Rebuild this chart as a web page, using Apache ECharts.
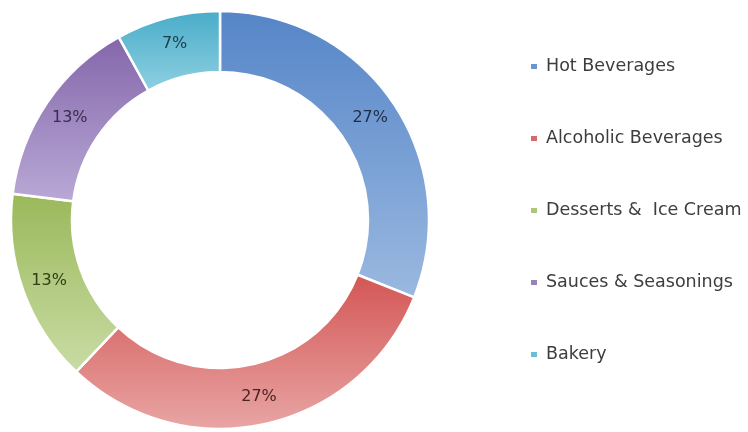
<!DOCTYPE html>
<html>
<head>
<meta charset="utf-8">
<script src="https://cdn.jsdelivr.net/npm/echarts@6/dist/echarts.min.js"></script>
<style>html,body{margin:0;padding:0;background:#fff}#c{width:748px;height:432px}</style>
</head>
<body>
<div id="c"></div>
<script>
var categories = ['Hot Beverages', 'Alcoholic Beverages', 'Desserts &  Ice Cream', 'Sauces & Seasonings', 'Bakery'];
var values = [27, 27, 13, 13, 7];
var topColors = ['#5585c8', '#d35654', '#9ab85a', '#8466aa', '#48acc8'];
var bottomColors = ['#9bb9e0', '#e8a6a5', '#c9dca5', '#b9a9d6', '#8fd0e2'];
var legendColors = ['#6b93cc', '#d56c6b', '#aec67a', '#9684b8', '#6bbdd3'];
var labelColors = ['#1f2d44', '#4a2424', '#2f3d1c', '#3a2c4c', '#1d3d48'];

var data = categories.map(function (name, i) {
  return {
    name: name,
    value: values[i],
    itemStyle: {
      color: new echarts.graphic.LinearGradient(0, 0, 0, 1, [
        { offset: 0, color: topColors[i] },
        { offset: 1, color: bottomColors[i] }
      ])
    },
    label: { color: labelColors[i] }
  };
});

var chart = echarts.init(document.getElementById('c'), null, { renderer: 'canvas' });
chart.setOption({
  animation: false,
  backgroundColor: '#ffffff',
  legend: {
    orient: 'vertical',
    left: 524,
    top: 51,
    itemGap: 51,
    itemWidth: 8,
    itemHeight: 7,
    icon: 'rect',
    data: categories.map(function (n, i) {
      return { name: n, itemStyle: { color: legendColors[i] } };
    }),
    textStyle: {
      fontFamily: 'DejaVu Sans',
      fontSize: 17.5,
      lineHeight: 21,
      color: '#3d3d3d',
      padding: [0, 0, 0, 3]
    }
  },
  series: [{
    type: 'pie',
    center: [220, 220],
    radius: [148, 209],
    startAngle: 90,
    clockwise: true,
    avoidLabelOverlap: false,
    itemStyle: { borderColor: '#ffffff', borderWidth: 2.5 },
    label: {
      show: true,
      position: 'inside',
      formatter: '{c}%',
      fontFamily: 'DejaVu Sans',
      fontSize: 16,
      fontWeight: 'normal'
    },
    labelLine: { show: false },
    emphasis: { disabled: true },
    data: data
  }]
});
</script>
</body>
</html>
